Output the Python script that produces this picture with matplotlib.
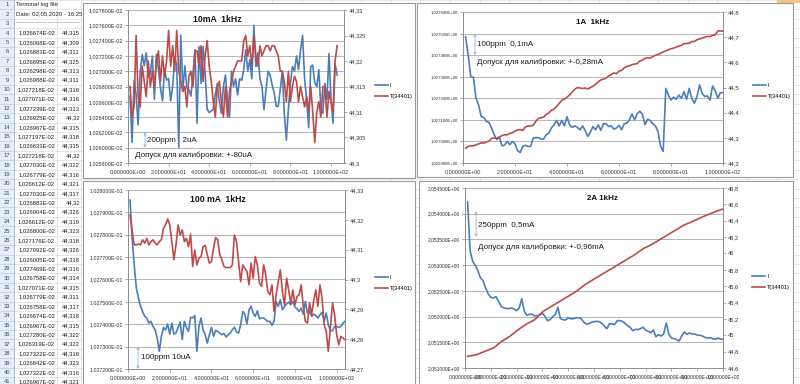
import matplotlib
matplotlib.use("Agg")
import matplotlib.pyplot as plt
from matplotlib.patches import Rectangle
from matplotlib.ticker import FixedLocator, MultipleLocator, FuncFormatter
import numpy as np

plt.rcParams['font.family'] = ['Liberation Sans', 'DejaVu Sans']

# ---- data -------------------------------------------------------------
# chart 1: 10mA 1kHz, current in units of 1E-02, temperature from 34401
c1_i = [1.026674, 1.026068, 1.026883, 1.026695, 1.026298, 1.026988, 1.027218, 1.027071, 1.027239, 1.026925,
        1.026967, 1.027197, 1.026633, 1.027218, 1.027030, 1.026779, 1.026612, 1.027030, 1.026883, 1.026904,
        1.026612, 1.026800, 1.027176, 1.027092, 1.026005, 1.027469, 1.026758, 1.027071, 1.026779, 1.026758,
        1.026674, 1.026967, 1.027280, 1.026319, 1.027322, 1.026842, 1.027322, 1.026967,
        1.02650, 1.02646, 1.02648, 1.02650, 1.02670, 1.02684, 1.02660, 1.02645, 1.02680, 1.02695,
        1.02662, 1.02640, 1.02700, 1.02680, 1.02690, 1.02669, 1.02690, 1.02688, 1.02702, 1.02728,
        1.02700, 1.02715, 1.02690, 1.02760, 1.02706, 1.02724, 1.02690, 1.02680, 1.02650, 1.02676,
        1.02700, 1.02695, 1.02682, 1.02672, 1.02654, 1.02654, 1.02676, 1.02700, 1.02645, 1.02610,
        1.02650, 1.02684, 1.02706, 1.02700, 1.02720, 1.02702, 1.02728, 1.02747, 1.02690, 1.02663,
        1.02626, 1.02706, 1.02708, 1.02685, 1.02680, 1.02702, 1.02650, 1.02645, 1.02684, 1.02663,
        1.02723, 1.02663, 1.02632, 1.02710, 1.02695]
c1_t = [44.315, 44.309, 44.311, 44.325, 44.313, 44.311, 44.319, 44.316, 44.313, 44.32,
        44.315, 44.318, 44.315, 44.32, 44.322, 44.316, 44.321, 44.317, 44.32, 44.326,
        44.319, 44.323, 44.318, 44.326, 44.318, 44.316, 44.314, 44.315, 44.311, 44.317,
        44.318, 44.315, 44.322, 44.322, 44.319, 44.323, 44.316, 44.321,
        44.324, 44.319, 44.316, 44.312, 44.309, 44.315, 44.316, 44.312, 44.309, 44.315,
        44.309, 44.314, 44.316, 44.318, 44.319, 44.320, 44.320, 44.320, 44.324, 44.325,
        44.321, 44.323, 44.319, 44.325, 44.321, 44.319, 44.323, 44.321, 44.322, 44.323,
        44.323, 44.322, 44.323, 44.323, 44.322, 44.321, 44.318, 44.318, 44.316, 44.312,
        44.318, 44.312, 44.315, 44.317, 44.316, 44.312, 44.315, 44.313, 44.311, 44.313,
        44.310, 44.315, 44.310, 44.304, 44.310, 44.312, 44.309, 44.315, 44.315, 44.309,
        44.314, 44.312, 44.310, 44.320, 44.323]

# chart 2: 1A 1kHz
c2_i = [1.027485, 1.027400, 1.027300, 1.027297, 1.027200, 1.027169, 1.027115, 1.027111, 1.027092, 1.027088,
        1.027062, 1.027031, 1.027008, 1.027020, 1.026980, 1.026983, 1.027000, 1.026985, 1.027000, 1.026989,
        1.026957, 1.026949, 1.026977, 1.026982, 1.026977, 1.026977, 1.027015, 1.027017, 1.027018, 1.027011,
        1.027011, 1.027031, 1.027038, 1.027062, 1.027077, 1.027097, 1.027072, 1.027097, 1.027072, 1.027115,
        1.027077, 1.027065, 1.027072, 1.027065, 1.027054, 1.027072, 1.027051, 1.027023, 1.027043, 1.027069,
        1.027054, 1.027077, 1.027051, 1.027082, 1.027082, 1.027069, 1.027072, 1.027057, 1.027062, 1.027075,
        1.027054, 1.027082, 1.027085, 1.027100, 1.027128, 1.027100, 1.027128, 1.027140, 1.027126, 1.027077,
        1.027103, 1.027097, 1.027082, 1.027072, 1.027046, 1.026977, 1.026954, 1.027246, 1.027215, 1.027192,
        1.027205, 1.027195, 1.027215, 1.027200, 1.027231, 1.027195, 1.027246, 1.027200, 1.027177, 1.027208,
        1.027262, 1.027223, 1.027208, 1.027211, 1.027192, 1.027257, 1.027235, 1.027200, 1.027226, 1.027226]
c2_t = [44.259, 44.266, 44.268, 44.268, 44.272, 44.276, 44.280, 44.279, 44.284, 44.287,
        44.298, 44.299, 44.298, 44.303, 44.309, 44.312, 44.312, 44.318, 44.320, 44.327,
        44.331, 44.333, 44.329, 44.344, 44.347, 44.347, 44.350, 44.366, 44.377, 44.380,
        44.382, 44.393, 44.399, 44.410, 44.414, 44.425, 44.437, 44.449, 44.454, 44.462,
        44.470, 44.482, 44.493, 44.500, 44.498, 44.496, 44.498, 44.494, 44.500, 44.505,
        44.513, 44.522, 44.530, 44.533, 44.537, 44.546, 44.551, 44.558, 44.555, 44.565,
        44.568, 44.578, 44.584, 44.586, 44.591, 44.593, 44.595, 44.605, 44.609, 44.616,
        44.618, 44.617, 44.623, 44.628, 44.631, 44.636, 44.641, 44.646, 44.650, 44.654,
        44.656, 44.661, 44.664, 44.668, 44.674, 44.675, 44.676, 44.682, 44.683, 44.690,
        44.693, 44.696, 44.700, 44.703, 44.702, 44.708, 44.709, 44.725, 44.725, 44.723]

# chart 3: 100 mA 1kHz, current in units of 1E-01
c3_i = [1.027955, 1.027784, 1.027665, 1.027561, 1.027517, 1.027480, 1.027457, 1.027435, 1.027428, 1.027405,
        1.027413, 1.027390, 1.027375, 1.027338, 1.027279, 1.027346, 1.027386, 1.027375, 1.027401, 1.027356,
        1.027405, 1.027356, 1.027361, 1.027386, 1.027410, 1.027331, 1.027413, 1.027386, 1.027368, 1.027430,
        1.027428, 1.027439, 1.027279, 1.027390, 1.027428, 1.027375, 1.027353, 1.027316, 1.027353, 1.027386,
        1.027346, 1.027373, 1.027368, 1.027361, 1.027353, 1.027359, 1.027343, 1.027353, 1.027361, 1.027375,
        1.027387, 1.027365, 1.027361, 1.027398, 1.027457, 1.027445, 1.027401, 1.027465, 1.027480, 1.027450,
        1.027435, 1.027460, 1.027424, 1.027428, 1.027428, 1.027420, 1.027413, 1.027413, 1.027395, 1.027413,
        1.027502, 1.027480, 1.027509, 1.027465, 1.027480, 1.027490, 1.027499, 1.027487, 1.027502, 1.027477,
        1.027469, 1.027457, 1.027472, 1.027445, 1.027502, 1.027450, 1.027457, 1.027435, 1.027445, 1.027439,
        1.027428, 1.027442, 1.027454, 1.027413, 1.027450, 1.027398, 1.027371, 1.027371, 1.027390, 1.027390,
        1.027386, 1.027390, 1.027405, 1.027413]
c3_t = [44.3216, 44.3161, 44.3116, 44.3116, 44.3119, 44.3116, 44.3133, 44.3122, 44.3138, 44.3116,
        44.3127, 44.3133, 44.3122, 44.3116, 44.3127, 44.3133, 44.3172, 44.3183, 44.3203, 44.3183,
        44.3127, 44.3066, 44.3116, 44.3183, 44.3149, 44.3166, 44.3127, 44.3138, 44.3110, 44.3152,
        44.3044, 44.3099, 44.3049, 44.3071, 44.3077, 44.3110, 44.3114, 44.3083, 44.3055, 44.3060,
        44.3105, 44.3141, 44.3133, 44.3083, 44.3066, 44.3044, 44.3040, 44.3040, 44.3040, 44.3049,
        44.3149, 44.3127, 44.3060, 44.2993, 44.3049, 44.3038, 44.3027, 44.2982, 44.3055, 44.3004,
        44.3077, 44.3049, 44.2988, 44.2977, 44.3049, 44.3016, 44.2960, 44.2949, 44.2982, 44.2893,
        44.2949, 44.2993, 44.3032, 44.2960, 44.2915, 44.3004, 44.2965, 44.2921, 44.2965, 44.2915,
        44.2943, 44.2949, 44.2982, 44.2910, 44.2860, 44.2854, 44.2921, 44.2882, 44.2929, 44.2965,
        44.2910, 44.2982, 44.2938, 44.2848, 44.2826, 44.2759, 44.2837, 44.2921, 44.2882, 44.2815,
        44.2781, 44.2809, 44.2804, 44.2798]

# chart 4: 2A 1kHz
c4_i = [2.054228, 2.053269, 2.053074, 2.052996, 2.052893, 2.052750, 2.052698, 2.052556, 2.052439, 2.052374,
        2.052361, 2.052387, 2.052296, 2.052199, 2.052167, 2.052160, 2.052154, 2.052167, 2.052147, 2.052115,
        2.052167, 2.052348, 2.052102, 2.052024, 2.052044, 2.052044, 2.052011, 2.052018, 2.052037, 2.052063,
        2.052005, 2.051921, 2.051940, 2.051998, 2.052037, 2.052180, 2.051959, 2.051940, 2.051934, 2.051973,
        2.051959, 2.051959, 2.051973, 2.051979, 2.051959, 2.051895, 2.051856, 2.051862, 2.051888, 2.051901,
        2.051908, 2.051901, 2.051869, 2.051817, 2.051765, 2.051862, 2.051856, 2.051843, 2.051921, 2.051921,
        2.051908, 2.051869, 2.051824, 2.051791, 2.051726, 2.051752, 2.051746, 2.051765, 2.051791, 2.051739,
        2.051713, 2.051687, 2.051739, 2.051609, 2.051648, 2.051622, 2.051661, 2.051875, 2.051661, 2.051583,
        2.051571, 2.051551, 2.051525, 2.051622, 2.051700, 2.051655, 2.051681, 2.051661, 2.051661, 2.051642,
        2.051635, 2.051622, 2.051596, 2.051583, 2.051590, 2.051571, 2.051558, 2.051583, 2.051564, 2.051558]
c4_t = [44.743, 44.749, 44.755, 44.760, 44.769, 44.782, 44.795, 44.807, 44.820, 44.832,
        44.845, 44.868, 44.895, 44.921, 44.941, 44.960, 44.979, 45.002, 45.027, 45.053,
        45.077, 45.098, 45.119, 45.140, 45.157, 45.173, 45.189, 45.220, 45.251, 45.283,
        45.306, 45.325, 45.344, 45.363, 45.382, 45.400, 45.419, 45.438, 45.457, 45.476,
        45.495, 45.514, 45.533, 45.557, 45.582, 45.608, 45.629, 45.648, 45.667, 45.686,
        45.705, 45.724, 45.743, 45.762, 45.781, 45.800, 45.818, 45.837, 45.856, 45.875,
        45.894, 45.913, 45.932, 45.951, 45.970, 45.990, 46.012, 46.035, 46.058, 46.073,
        46.088, 46.104, 46.121, 46.140, 46.160, 46.179, 46.198, 46.217, 46.236, 46.255,
        46.273, 46.292, 46.311, 46.330, 46.349, 46.362, 46.375, 46.388, 46.402, 46.417,
        46.432, 46.446, 46.459, 46.472, 46.484, 46.497, 46.510, 46.522, 46.533, 46.543]

legend_labels = ['I', 'T(34401)']
sheet_title = 'Terminal log file'
sheet_date = 'Date: 02,05,2020 - 16:25:40'

# ---- helpers ----------------------------------------------------------
W, H = 800, 384
BLUE = '#4A7EBB'
RED = '#BE4B48'
GRID = '#A9A9A9'
AX = '#8C8C8C'
TXT = '#303030'


def sci(v, pos=None):
    return f"{v:.6E}".replace('.', ',')


def dec(v, pos=None):
    return f"{v:.3f}".rstrip('0').rstrip('.').replace('.', ',')


fig = plt.figure(figsize=(8, 3.84), dpi=100)
bg = fig.add_axes([0, 0, 1, 1])
bg.set_xlim(0, W)
bg.set_ylim(H, 0)
bg.axis('off')

# ---- spreadsheet behind the charts ------------------------------------
ROW = 9.43
bg.add_patch(Rectangle((0, 0), 14, H, fc='#E6EDF7', ec='none', zorder=1))
for k in range(42):
    y = k * ROW
    bg.plot([14, W], [y, y], color='#D6DDE8', lw=0.5, zorder=1)
    bg.plot([0, 14], [y, y], color='#BFCDE0', lw=0.5, zorder=1)
cols = [57, 81] + [450 + 29.7 * k for k in range(-12, 12) if 90 < 450 + 29.7 * k < W]
for xc in cols:
    bg.plot([xc, xc], [0, H], color='#D6DDE8', lw=0.5, zorder=1)
bg.plot([14, 14], [0, H], color='#9EB6CE', lw=0.6, zorder=1)
bg.add_patch(Rectangle((777, 0), 23, 2.6, fc='#F7C27A', ec='none', zorder=1))

for r in range(1, 42):
    bg.text(7, (r - 0.5) * ROW, str(r), fontsize=4.2, color='#3B4E6B',
            ha='center', va='center', zorder=2)
bg.text(16, 0.5 * ROW, sheet_title, fontsize=4.3, color='#202020', va='center', zorder=2)
bg.text(16, 1.5 * ROW, sheet_date, fontsize=4.3, color='#202020', va='center', zorder=2)
bg.text(16, 2.45 * ROW, '-' * 40, fontsize=3.5, color='#606060', va='center', zorder=2)
for k in range(38):
    yc = (k + 3.5) * ROW
    bg.text(55, yc, sci(c1_i[k] * 1e-2), fontsize=4.2, color='#202020',
            ha='right', va='center', zorder=2)
    bg.text(80, yc, dec(c1_t[k]), fontsize=4.2, color='#202020',
            ha='right', va='center', zorder=2)

# chart frames
for (x0, y0, x1, y1) in [(83, 2.7, 414.5, 178), (416.5, 2.7, 793, 177),
                         (83, 180.5, 414.5, 390), (419, 180.5, 793, 390)]:
    bg.add_patch(Rectangle((x0, y0), x1 - x0, y1 - y0, fc='white', ec='#9A9A9A',
                           lw=0.8, zorder=3))


def chart(box, i_vals, t_vals, scale, xlim, xstep, lticks, rticks,
          lfs, xfs, rfs, title, title_xy, title_fs, leg_xy):
    x0, y0, x1, y1 = box
    ax = fig.add_axes([x0 / W, 1 - y1 / H, (x1 - x0) / W, (y1 - y0) / H], zorder=5)
    ax.patch.set_visible(False)
    xs = np.arange(1, len(i_vals) + 1)
    l1, = ax.plot(xs, np.array(i_vals) * scale, color=BLUE, lw=1.2, zorder=3)
    ax.set_xlim(*xlim)
    ax.set_ylim(lticks[0], lticks[-1])
    ax.yaxis.set_major_locator(FixedLocator(lticks))
    ax.yaxis.set_major_formatter(FuncFormatter(sci))
    ax.xaxis.set_major_locator(MultipleLocator(xstep))
    ax.xaxis.set_major_formatter(FuncFormatter(sci))
    ax.yaxis.grid(True, color=GRID, lw=0.6)
    ax.set_axisbelow(True)
    for s in ['top', 'right']:
        ax.spines[s].set_visible(False)
    for s in ['left', 'bottom']:
        ax.spines[s].set_color(AX)
        ax.spines[s].set_linewidth(0.7)
    ax.tick_params(axis='y', length=2, width=0.5, color=AX, labelsize=lfs,
                   labelcolor=TXT, pad=1.5)
    ax.tick_params(axis='x', length=2, width=0.5, color=AX, labelsize=xfs,
                   labelcolor=TXT, pad=2.5)

    ax2 = ax.twinx()
    l2, = ax2.plot(xs, t_vals, color=RED, lw=1.2)
    ax2.set_ylim(rticks[0], rticks[-1])
    ax2.yaxis.set_major_locator(FixedLocator(rticks))
    ax2.yaxis.set_major_formatter(FuncFormatter(dec))
    for s in ['top', 'left', 'bottom']:
        ax2.spines[s].set_visible(False)
    ax2.spines['right'].set_color(AX)
    ax2.spines['right'].set_linewidth(0.7)
    ax2.tick_params(axis='y', length=2, width=0.5, color=AX, labelsize=rfs,
                    labelcolor=TXT, pad=1.5)

    fig.text(title_xy[0] / W, 1 - title_xy[1] / H, title, fontsize=title_fs,
             weight='bold', ha='center', va='center', color='#101010', zorder=6)
    ax2.legend([l1, l2], legend_labels, loc='upper left',
               bbox_to_anchor=(leg_xy[0] / W, 1 - leg_xy[1] / H),
               bbox_transform=fig.transFigure, frameon=False, fontsize=4,
               handlelength=2.3, handletextpad=0.4, labelspacing=1.0,
               borderpad=0, borderaxespad=0)
    return ax, ax2


ARROW = dict(arrowstyle='<->', color='#8DB4E2', lw=0.6, shrinkA=0, shrinkB=0,
             mutation_scale=4)
NOTE = dict(fontsize=5.8, color='#1A1A1A', va='center', zorder=6)

# chart 1
ax, ax2 = chart((128, 10, 344, 163), c1_i, c1_t, 1e-2, (0, 106.4), 20,
                np.linspace(1.0258e-2, 1.0278e-2, 11), np.linspace(44.30, 44.33, 7),
                3.9, 3.9, 4.0, '10mA  1kHz', (217, 19), 6.2, (375, 83))
ax.annotate('', xy=(8.4, 1.0260e-2), xytext=(8.4, 1.0262e-2), arrowprops=ARROW)
ax.text(9.4, 1.02610e-2, '200ppm   2uA', **NOTE)
ax.text(3.5, 1.02590e-2, 'Допуск для калибровки: +-80uA', **NOTE)

# chart 2
ax, ax2 = chart((463, 12, 723, 163), c2_i, c2_t, 1.0, (0, 100), 20,
                np.linspace(1.0269, 1.0276, 8), np.linspace(44.2, 44.8, 7),
                3.1, 3.9, 4.3, '1A  1kHz', (593, 23), 5.8, (753, 83))
ax.annotate('', xy=(4.6, 1.02740), xytext=(4.6, 1.02750), arrowprops=ARROW)
ax.text(5.3, 1.027450, '100ppm  0,1mA', **NOTE)
ax.text(5.3, 1.027366, 'Допуск для калибровки: +-0,28mA', **NOTE)

# chart 3
ax, ax2 = chart((128, 190, 345, 369), c3_i, c3_t, 1e-1, (0, 104), 20,
                np.linspace(1.0272e-1, 1.0280e-1, 9), np.linspace(44.27, 44.33, 7),
                3.8, 3.9, 4.0, '100 mA  1kHz', (218, 199), 6.2, (375, 275))
ax.annotate('', xy=(4.8, 1.02720e-1), xytext=(4.8, 1.02730e-1), arrowprops=ARROW)
ax.text(6.4, 1.027250e-1, '100ppm 10uA', **NOTE)

# chart 4
ax, ax2 = chart((465, 188, 723, 368), c4_i, c4_t, 1.0, (0, 100), 10,
                np.linspace(2.0510, 2.0545, 8), np.linspace(44.6, 46.8, 12),
                3.5, 3.7, 4.1, '2A 1kHz', (602, 198), 5.8, (752, 274))
ax.annotate('', xy=(4.3, 2.05355), xytext=(4.3, 2.05405), arrowprops=ARROW)
ax.text(5.0, 2.053774, '250ppm  0,5mA', **NOTE)
ax.text(5.0, 2.053346, 'Допуск для калибровки: +-0,96mA', **NOTE)

fig.savefig('out.png', dpi=100)
